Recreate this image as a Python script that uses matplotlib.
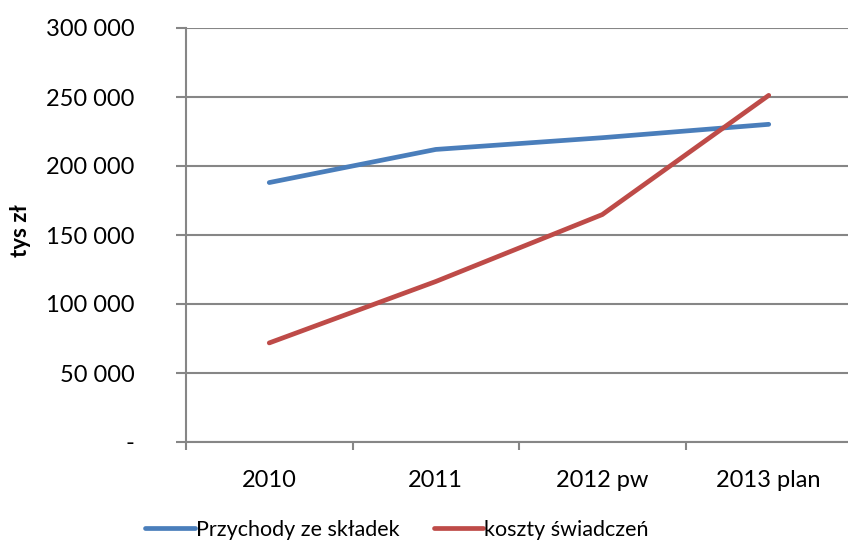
import matplotlib.pyplot as plt
from matplotlib.ticker import FuncFormatter, FixedLocator

plt.rcParams['font.family'] = ['Lato', 'DejaVu Sans']

categories = ['2010', '2011', '2012 pw', '2013 plan']
przychody = [188000, 212000, 220500, 230200]
koszty = [71800, 116300, 164800, 251200]
series_names = ['Przychody ze składek', 'koszty świadczeń']

fig = plt.figure(figsize=(8.48, 5.48), dpi=100)
ax = fig.add_axes([186 / 848, 1 - 442 / 548, 666 / 848, 414 / 548])

x = range(len(categories))
ax.plot(x, przychody, color='#4A7EBB', lw=3.4, solid_capstyle='round', label=series_names[0])
ax.plot(x, koszty, color='#BE4B48', lw=3.4, solid_capstyle='round', label=series_names[1])

ax.set_xlim(-0.5, len(categories) - 0.5)
ax.set_ylim(0, 300000)
ax.set_yticks(range(0, 300001, 50000))


def fmt(v, pos):
    if v == 0:
        return '-'
    return f'{int(v):,}'.replace(',', ' ')


ax.yaxis.set_major_formatter(FuncFormatter(fmt))
ax.set_xticks(list(x))
ax.set_xticklabels(categories)
ax.xaxis.set_minor_locator(FixedLocator([i - 0.5 for i in range(len(categories))]))
ax.tick_params(axis='x', which='major', length=0, pad=20, labelsize=17)
ax.tick_params(axis='x', which='minor', length=6, width=1.5, color='#868686', direction='out')
ax.tick_params(axis='y', length=7, width=1.5, color='#868686', direction='out', pad=30, labelsize=17)

ax.grid(axis='y', color='#868686', lw=1.5)
ax.set_axisbelow(True)
for s in ['top', 'right']:
    ax.spines[s].set_visible(False)
for s in ['left', 'bottom']:
    ax.spines[s].set_color('#868686')
    ax.spines[s].set_linewidth(1.5)

ax.set_ylabel('tys zł', fontsize=16, fontweight='bold')
ax.yaxis.set_label_coords(-0.232, 0.51)

fig.legend(loc='lower center', bbox_to_anchor=(0.468, -0.02), ncol=2, frameon=False,
           fontsize=15.5, handlelength=2.3, handletextpad=0.05, columnspacing=1.6)

fig.savefig('out.png', dpi=100)
